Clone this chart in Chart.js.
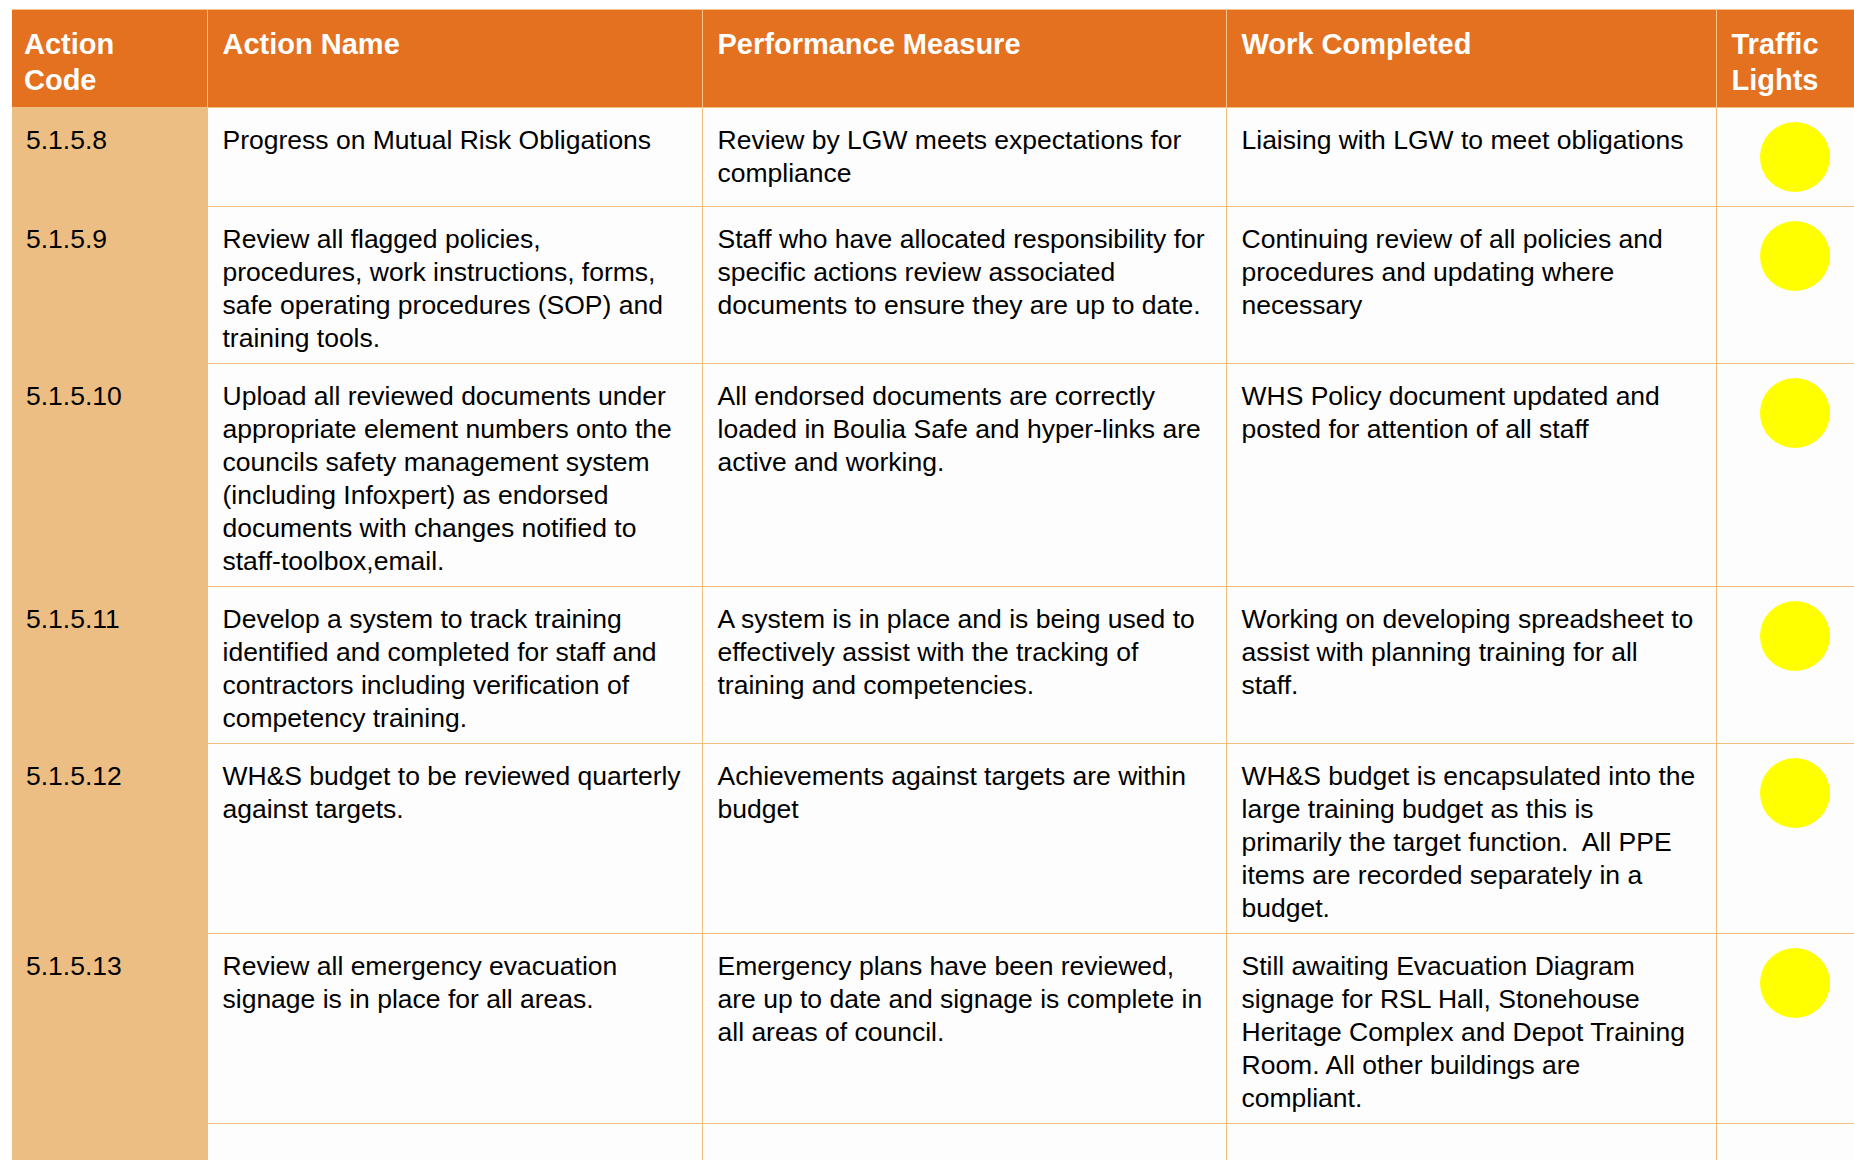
<!DOCTYPE html>
<html>
<head>
<meta charset="utf-8">
<title>WHS Action Plan</title>
<script src="https://cdn.jsdelivr.net/npm/chart.js@4.4.1/dist/chart.umd.min.js"></script>
<style>
    html, body {
        margin: 0;
        padding: 0;
        background: #ffffff;
        overflow: hidden;
        width: 1854px;
        height: 1160px;
    }
    .action-table {
        position: absolute;
        left: 12px;
        top: 9px;
        border-collapse: collapse;
        table-layout: fixed;
        width: 1864px;
        font-family: 'Liberation Sans', Arial, sans-serif;
        border-top: 1px solid #f3c48c;
    }
    .action-table th {
        background: #e4711f;
        color: #ffffff;
        font-weight: bold;
        font-size: 29px;
        line-height: 35.5px;
        text-align: left;
        vertical-align: top;
        padding: 17px 14px 9px 15px;
        border-left: 1px solid #f3c48c;
        border-right: 1px solid #f3c48c;
        height: 98px;
        box-sizing: border-box;
    }
    .action-table th:first-child {
        border-left: none;
        padding-left: 12px;
    }
    .action-table td {
        background: #fdfdfd;
        color: #000000;
        font-size: 26.5px;
        line-height: 33px;
        vertical-align: top;
        padding: 16px 14px 8px 15px;
        border: 1px solid #f1bd7c;
        white-space: pre;
    }
    .action-table td.code {
        background: #ecbe83;
        border-left: none;
        border-top-color: #ecbe83;
        border-bottom-color: #ecbe83;
        padding-left: 14px;
    }
    .action-table td.light {
        padding: 14px 0 14px 0;
    }
    .light-box {
        width: 156px;
        height: 70px;
    }
    .action-table tr.blank td {
        height: 60px;
    }
</style>
</head>
<body>
<table class="action-table" id="actionTable">
    <colgroup>
        <col style="width:195px">
        <col style="width:495px">
        <col style="width:524px">
        <col style="width:490px">
        <col style="width:160px">
    </colgroup>
    <thead><tr id="headerRow"></tr></thead>
    <tbody id="tableBody"></tbody>
</table>

<script>
// Table data
const headers = ['Action\nCode', 'Action Name', 'Performance Measure', 'Work Completed', 'Traffic\nLights'];

const actionCodes = ['5.1.5.8', '5.1.5.9', '5.1.5.10', '5.1.5.11', '5.1.5.12', '5.1.5.13'];

const actionNames = [
    'Progress on Mutual Risk Obligations',
    'Review all flagged policies,\nprocedures, work instructions, forms,\nsafe operating procedures (SOP) and\ntraining tools.',
    'Upload all reviewed documents under\nappropriate element numbers onto the\ncouncils safety management system\n(including Infoxpert) as endorsed\ndocuments with changes notified to\nstaff-toolbox,email.',
    'Develop a system to track training\nidentified and completed for staff and\ncontractors including verification of\ncompetency training.',
    'WH&S budget to be reviewed quarterly\nagainst targets.',
    'Review all emergency evacuation\nsignage is in place for all areas.'
];

const performanceMeasures = [
    'Review by LGW meets expectations for\ncompliance',
    'Staff who have allocated responsibility for\nspecific actions review associated\ndocuments to ensure they are up to date.',
    'All endorsed documents are correctly\nloaded in Boulia Safe and hyper-links are\nactive and working.',
    'A system is in place and is being used to\neffectively assist with the tracking of\ntraining and competencies.',
    'Achievements against targets are within\nbudget',
    'Emergency plans have been reviewed,\nare up to date and signage is complete in\nall areas of council.'
];

const workCompleted = [
    'Liaising with LGW to meet obligations',
    'Continuing review of all policies and\nprocedures and updating where\nnecessary',
    'WHS Policy document updated and\nposted for attention of all staff',
    'Working on developing spreadsheet to\nassist with planning training for all\nstaff.',
    'WH&S budget is encapsulated into the\nlarge training budget as this is\nprimarily the target function.  All PPE\nitems are recorded separately in a\nbudget.',
    'Still awaiting Evacuation Diagram\nsignage for RSL Hall, Stonehouse\nHeritage Complex and Depot Training\nRoom. All other buildings are\ncompliant.'
];

const trafficLights = ['Yellow', 'Yellow', 'Yellow', 'Yellow', 'Yellow', 'Yellow'];

const lightColours = {
    Green: '#00b050',
    Yellow: '#ffff00',
    Red: '#ff0000'
};

document.addEventListener('DOMContentLoaded', function() {
    buildHeader();
    buildRows();
});

// Header cells
function buildHeader() {
    const headerRow = document.getElementById('headerRow');
    headers.forEach(text => {
        const th = document.createElement('th');
        th.style.whiteSpace = 'pre';
        th.textContent = text;
        headerRow.appendChild(th);
    });
}

// Body rows, with a small pie chart for each traffic light
function buildRows() {
    const body = document.getElementById('tableBody');

    actionCodes.forEach((code, i) => {
        const tr = document.createElement('tr');

        const cells = [code, actionNames[i], performanceMeasures[i], workCompleted[i]];
        cells.forEach((text, c) => {
            const td = document.createElement('td');
            if (c === 0) td.className = 'code';
            td.textContent = text;
            tr.appendChild(td);
        });

        const lightCell = document.createElement('td');
        lightCell.className = 'light';
        const box = document.createElement('div');
        box.className = 'light-box';
        const canvas = document.createElement('canvas');
        canvas.width = 156;
        canvas.height = 70;
        box.appendChild(canvas);
        lightCell.appendChild(box);
        tr.appendChild(lightCell);

        body.appendChild(tr);

        drawLight(canvas, trafficLights[i]);
    });

    // empty row at the bottom of the page
    const blank = document.createElement('tr');
    blank.className = 'blank';
    for (let c = 0; c < headers.length; c++) {
        const td = document.createElement('td');
        if (c === 0) td.className = 'code';
        blank.appendChild(td);
    }
    body.appendChild(blank);
}

function drawLight(canvas, status) {
    new Chart(canvas, {
        type: 'pie',
        data: {
            labels: [status],
            datasets: [{
                data: [1],
                backgroundColor: [lightColours[status]],
                borderWidth: 0
            }]
        },
        options: {
            responsive: false,
            animation: false,
            radius: 35,
            layout: { padding: 0 },
            plugins: {
                legend: { display: false },
                tooltip: { enabled: false }
            }
        }
    });
}
</script>
</body>
</html>
